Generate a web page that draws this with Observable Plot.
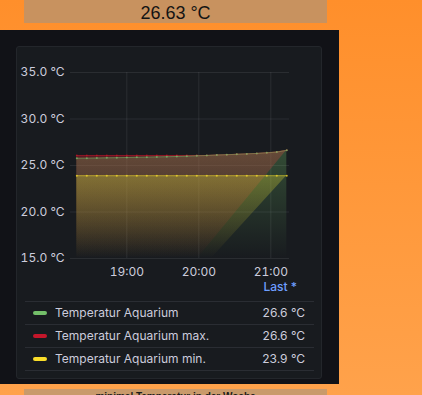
<!DOCTYPE html>
<html><head><meta charset="utf-8">
<script src="https://cdn.jsdelivr.net/npm/d3@7"></script>
<script src="https://cdn.jsdelivr.net/npm/@observablehq/plot@0.6"></script>
<style>
html,body{margin:0;padding:0}
body{width:422px;height:395px;position:relative;overflow:hidden;background:linear-gradient(180deg,#ff8f2b 0%,#ffa24b 100%);font-family:Inter,"Noto Sans",sans-serif}
.abs{position:absolute}
#topbox{left:24px;top:0;width:303px;height:23px;background:#c8925f}
#toptext{left:24px;top:4px;width:303px;text-align:center;font:18px/18px "Liberation Sans",Arial,sans-serif;color:#141414}
#panel{left:0;top:30px;width:339px;height:354px;background:#111217}
#card{left:16px;top:46px;width:306px;height:333px;background:#181b1f;border:1px solid #23262b;border-radius:3px;box-sizing:border-box}
#chart{left:0;top:46px}
#lasthdr{left:200px;top:280px;width:97px;text-align:right;font:500 12px/14px Inter,sans-serif;color:#6e9fff}
.sep{left:25px;width:289px;height:1px;background:#2a2d33}
.row{left:0;width:422px;height:22px}
.sw{left:33px;top:9px;width:14px;height:4px;border-radius:2px}
.lbl{left:55px;top:0;font:12px/22px Inter,sans-serif;color:#ccccdc;white-space:nowrap}
.val{left:200px;top:0;width:105px;text-align:right;font:12px/22px Inter,sans-serif;color:#ccccdc}
#botbox{left:24px;top:389px;width:303px;height:10px;background:#c99a6b;overflow:hidden}
#bottext{left:0;top:3px;width:303px;text-align:center;font:bold 10px/10px "Liberation Sans",Arial,sans-serif;color:#1a1a1a;white-space:nowrap}
</style></head><body>
<div id="topbox" class="abs"></div>
<div id="toptext" class="abs"></div>
<div id="panel" class="abs"></div>
<div id="card" class="abs"></div>
<div id="chart" class="abs"></div>
<div id="lasthdr" class="abs">Last *</div>
<div id="legend"></div>
<div id="botbox" class="abs"><div id="bottext" class="abs"></div></div>
<script>
// ---- data ----
const times = ["18:18:20","18:26:40","18:35:00","18:43:20","18:51:40","19:00:00","19:08:20","19:16:40","19:25:00","19:33:20","19:41:40","19:50:00","19:58:20","20:06:40","20:15:00","20:23:20","20:31:40","20:40:00","20:48:20","20:56:40","21:05:00","21:13:20"];
const tempAquarium = [25.78,25.79,25.80,25.82,25.84,25.86,25.88,25.90,25.92,25.94,25.97,26.00,26.04,26.08,26.12,26.16,26.20,26.25,26.30,26.36,26.44,26.63];
const tempMax = [26.08,26.08,26.08,26.08,26.08,26.08,26.08,26.08,26.08,26.08,26.08,26.08,26.08,26.08,26.12,26.16,26.20,26.25,26.30,26.36,26.44,26.63];
const tempMin = [23.9,23.9,23.9,23.9,23.9,23.9,23.9,23.9,23.9,23.9,23.9,23.9,23.9,23.9,23.9,23.9,23.9,23.9,23.9,23.9,23.9,23.9];
const seriesNames = ["Temperatur Aquarium","Temperatur Aquarium max.","Temperatur Aquarium min."];
const seriesColors = ["#73bf69","#c4162a","#fade2a"];
const fillReturnTimes = [null,"19:59:00","20:10:30"]; // where each fill polygon closes back to the baseline
const fillOpacity = [0.3,0.42,0.32];
const yTicks = [15,20,25,30,35];
const xTicks = ["19:00:00","20:00:00","21:00:00"];
const xDomain = ["18:13:05","21:15:35"];
const currentValue = "26.63 °C";
const bottomTitle = "minimal Temperatur in der Woche";

// ---- build ----
const parse = d3.utcParse("%H:%M:%S");
const seriesValues = [tempAquarium, tempMax, tempMin];
const yBase = yTicks[0];
const series = seriesValues.map((vals, i) => ({
  name: seriesNames[i], color: seriesColors[i],
  points: times.map((t, j) => ({t: parse(t), v: vals[j]}))
}));
const drawOrder = [1, 2, 0];
const marks = [];
for (const i of drawOrder) {
  const s = series[i];
  const areaData = s.points.slice();
  if (fillReturnTimes[i]) areaData.push({t: parse(fillReturnTimes[i]), v: yBase});
  marks.push(Plot.area(areaData, {x1: "t", y1: () => yBase, y2: "v", fill: `url(#grad${i})`}));
}
for (const i of drawOrder) {
  const s = series[i];
  marks.push(Plot.line(s.points, {x: "t", y: "v", stroke: s.color, strokeWidth: 1, strokeOpacity: 0.45}));
  marks.push(Plot.dot(s.points, {x: "t", y: "v", r: 1, fill: s.color, fillOpacity: 0.7, stroke: null}));
}
const svg = Plot.plot({
  width: 322, height: 235,
  marginLeft: 70, marginRight: 33, marginTop: 26, marginBottom: 23,
  style: {background: "transparent", color: "#ccccdc", fontFamily: "Inter, sans-serif", fontSize: "12px", overflow: "visible"},
  x: {type: "utc", domain: xDomain.map(parse), ticks: xTicks.map(parse), tickFormat: d3.utcFormat("%H:%M"), tickSize: 0, tickPadding: 9, grid: true, label: null},
  y: {domain: [yTicks[0], yTicks[yTicks.length - 1]], ticks: yTicks, tickFormat: d => d.toFixed(1) + " °C", tickSize: 0, tickPadding: 6, grid: true, label: null},
  marks
});
const defs = d3.create("svg:defs");
seriesColors.forEach((c, i) => {
  const g = defs.append("linearGradient").attr("id", "grad" + i).attr("x1", 0).attr("y1", 0).attr("x2", 0).attr("y2", 1);
  g.append("stop").attr("offset", 0).attr("stop-color", c).attr("stop-opacity", fillOpacity[i]);
  g.append("stop").attr("offset", 1).attr("stop-color", c).attr("stop-opacity", 0);
});
svg.insertBefore(defs.node(), svg.firstChild);
document.getElementById("chart").appendChild(svg);

document.getElementById("toptext").textContent = currentValue;
document.getElementById("bottext").textContent = bottomTitle;

const legend = document.getElementById("legend");
const rowTops = [302, 325, 348];
const seps = [301, 324, 347, 370];
seps.forEach(y => { const d = document.createElement("div"); d.className = "abs sep"; d.style.top = y + "px"; legend.appendChild(d); });
series.forEach((s, i) => {
  const r = document.createElement("div"); r.className = "abs row"; r.style.top = rowTops[i] + "px";
  const last = seriesValues[i][seriesValues[i].length - 1];
  r.innerHTML = `<div class="abs sw" style="background:${s.color}"></div><div class="abs lbl">${s.name}</div><div class="abs val">${last.toFixed(1)} °C</div>`;
  legend.appendChild(r);
});
</script>
</body></html>
